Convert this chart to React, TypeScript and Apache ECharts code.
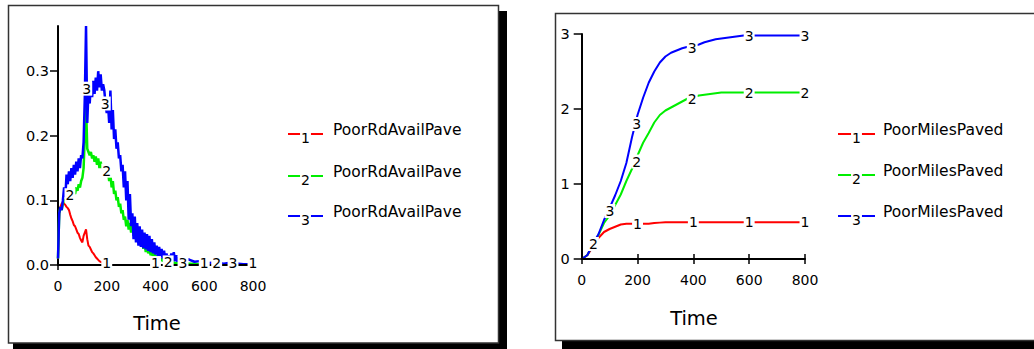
import React, { useEffect, useRef } from "react";
import * as echarts from "echarts";

// ---------- Left chart data (PoorRdAvailPave) ----------
const leftTime: number[] = [
  0, 5, 10, 15, 20, 25, 30, 35, 40, 45, 50, 55, 60, 65, 70, 75, 80, 85, 90, 95,
  100, 105, 110, 115, 120, 125, 130, 135, 140, 145, 150, 155, 160, 165, 170, 175, 180, 185, 190, 195,
  200, 205, 210, 215, 220, 225, 230, 235, 240, 245, 250, 255, 260, 265, 270, 275, 280, 285, 290, 295,
  300, 305, 310, 315, 320, 325, 330, 335, 340, 345, 350, 355, 360, 365, 370, 375, 380, 385, 390, 395,
  400, 405, 410, 415, 420, 425, 430, 435, 440, 445, 450, 455, 460, 465, 470, 475, 480, 485, 490, 495,
  500, 520, 540, 560, 580, 600, 620, 640, 660, 680, 700, 720, 740, 760, 780, 800,
];
const leftRed: number[] = [
  0.01, 0.08, 0.09, 0.095, 0.097, 0.095, 0.093, 0.09, 0.088, 0.085, 0.078, 0.072, 0.068, 0.062, 0.06, 0.055, 0.05, 0.048, 0.042, 0.038,
  0.035, 0.045, 0.05, 0.055, 0.04, 0.03, 0.028, 0.024, 0.02, 0.018, 0.015, 0.012, 0.01, 0.008, 0.006, 0.005, 0.004, 0.004, 0.003, 0.002,
  0.001, 0, 0, 0, 0, 0, 0, 0, 0, 0, 0, 0, 0, 0, 0, 0, 0, 0, 0, 0,
  0, 0, 0, 0, 0, 0, 0, 0, 0, 0, 0, 0, 0, 0, 0, 0, 0, 0, 0, 0,
  0, 0, 0, 0, 0, 0, 0, 0, 0, 0, 0, 0, 0, 0, 0, 0, 0, 0, 0, 0,
  0, 0, 0, 0, 0, 0, 0, 0, 0, 0, 0, 0, 0, 0, 0, 0,
];
const leftGreen: number[] = [
  0.01, 0.08, 0.09, 0.085, 0.095, 0.1, 0.1, 0.105, 0.1, 0.11, 0.105, 0.11, 0.105, 0.115, 0.11, 0.12, 0.115, 0.125, 0.12, 0.13,
  0.135, 0.15, 0.2, 0.25, 0.18, 0.175, 0.17, 0.175, 0.165, 0.17, 0.16, 0.168, 0.155, 0.165, 0.15, 0.16, 0.15, 0.155, 0.145, 0.15,
  0.14, 0.145, 0.13, 0.14, 0.12, 0.13, 0.11, 0.115, 0.1, 0.105, 0.09, 0.095, 0.08, 0.085, 0.07, 0.075, 0.06, 0.07, 0.055, 0.065,
  0.05, 0.07, 0.045, 0.06, 0.04, 0.05, 0.035, 0.045, 0.03, 0.04, 0.025, 0.035, 0.02, 0.03, 0.018, 0.025, 0.015, 0.02, 0.012, 0.018,
  0.01, 0.015, 0.008, 0.012, 0.007, 0.01, 0.006, 0.008, 0.005, 0.007, 0.004, 0.006, 0.004, 0.005, 0.003, 0.004, 0.003, 0.003, 0.002, 0.003,
  0.002, 0.002, 0.002, 0.002, 0.001, 0.001, 0.001, 0.001, 0.001, 0.001, 0.001, 0.001, 0.001, 0.001, 0.001, 0.001,
];
const leftBlue: number[] = [
  0.01, 0.08, 0.09, 0.085, 0.1, 0.12, 0.105, 0.14, 0.125, 0.145, 0.13, 0.15, 0.135, 0.155, 0.14, 0.16, 0.145, 0.165, 0.15, 0.17,
  0.165, 0.19, 0.26, 0.37, 0.22, 0.27, 0.25, 0.28, 0.26, 0.285, 0.265, 0.29, 0.27, 0.3, 0.275, 0.295, 0.27, 0.28, 0.27, 0.25,
  0.235, 0.25, 0.22, 0.27, 0.21, 0.24, 0.195, 0.21, 0.18, 0.19, 0.165, 0.17, 0.145, 0.155, 0.12, 0.145, 0.1, 0.13, 0.07, 0.11,
  0.06, 0.08, 0.04, 0.075, 0.035, 0.065, 0.03, 0.06, 0.028, 0.055, 0.026, 0.05, 0.024, 0.048, 0.022, 0.045, 0.02, 0.04, 0.018, 0.035,
  0.016, 0.03, 0.014, 0.028, 0.012, 0.025, 0.01, 0.022, 0.009, 0.018, 0.008, 0.015, 0.007, 0.018, 0.006, 0.02, 0.006, 0.015, 0.005, 0.012,
  0.005, 0.01, 0.008, 0.005, 0.006, 0.004, 0.003, 0.004, 0.003, 0.002, 0.003, 0.002, 0.002, 0.001, 0.001, 0.001,
];
const leftNames: string[] = ["PoorRdAvailPave", "PoorRdAvailPave", "PoorRdAvailPave"];
const leftLabels1: number[][] = [[200, 0.003], [400, 0.003], [600, 0.003], [800, 0.003]];
const leftLabels2: number[][] = [[49, 0.108], [200, 0.146], [452, 0.004], [651, 0.003]];
const leftLabels3: number[][] = [[118, 0.273], [194, 0.25], [513, 0.003], [718, 0.003]];
const leftXTicks: number[] = [0, 200, 400, 600, 800];
const leftYTicks: number[] = [0, 0.1, 0.2, 0.3];

// ---------- Right chart data (PoorMilesPaved) ----------
const rightTime: number[] = [
  0, 20, 40, 60, 80, 100, 120, 140, 160, 180, 200, 220, 240, 260, 280, 300, 320, 340, 360, 380,
  400, 420, 440, 460, 480, 500, 520, 540, 560, 580, 600, 620, 640, 660, 680, 700, 720, 740, 760, 780, 800,
];
const rightRed: number[] = [
  0, 0.05, 0.16, 0.28, 0.36, 0.4, 0.43, 0.46, 0.47, 0.47, 0.47, 0.47, 0.47, 0.48, 0.485, 0.49, 0.49, 0.49, 0.49, 0.49,
  0.49, 0.49, 0.49, 0.49, 0.49, 0.49, 0.49, 0.49, 0.49, 0.49, 0.49, 0.49, 0.49, 0.49, 0.49, 0.49, 0.49, 0.49, 0.49, 0.49, 0.49,
];
const rightGreen: number[] = [
  0, 0.05, 0.2, 0.32, 0.48, 0.58, 0.72, 0.86, 1.04, 1.2, 1.38, 1.55, 1.68, 1.82, 1.92, 1.98, 2.02, 2.06, 2.1, 2.14,
  2.16, 2.18, 2.19, 2.2, 2.21, 2.22, 2.22, 2.22, 2.22, 2.22, 2.22, 2.22, 2.22, 2.22, 2.22, 2.22, 2.22, 2.22, 2.22, 2.22, 2.22,
];
const rightBlue: number[] = [
  0, 0.05, 0.2, 0.33, 0.52, 0.68, 0.85, 1.04, 1.28, 1.62, 1.92, 2.15, 2.35, 2.5, 2.62, 2.7, 2.75, 2.78, 2.81, 2.83,
  2.84, 2.86, 2.89, 2.91, 2.93, 2.94, 2.95, 2.96, 2.97, 2.98, 2.98, 2.98, 2.98, 2.98, 2.98, 2.98, 2.98, 2.98, 2.98, 2.98, 2.98,
];
const rightNames: string[] = ["PoorMilesPaved", "PoorMilesPaved", "PoorMilesPaved"];
const rightLabels1: number[][] = [[200, 0.47], [400, 0.49], [600, 0.49], [800, 0.49]];
const rightLabels2: number[][] = [[42, 0.2], [197, 1.3], [396, 2.14], [600, 2.22], [800, 2.22]];
const rightLabels3: number[][] = [[101, 0.64], [197, 1.8], [396, 2.82], [600, 2.98], [800, 2.98]];
const rightXTicks: number[] = [0, 200, 400, 600, 800];
const rightYTicks: number[] = [0, 1, 2, 3];

const seriesColors: string[] = ["#ff0000", "#00ee00", "#0000ff"];
const seriesNumbers: string[] = ["1", "2", "3"];
const FONT = "DejaVu Sans";

function zip(xs: number[], ys: number[]): number[][] {
  return xs.map((x, i) => [x, ys[i]]);
}

function markPts(coords: number[][], text: string) {
  return {
    symbol: "rect",
    symbolSize: 0,
    silent: true,
    animation: false,
    label: {
      show: true,
      position: "inside",
      formatter: text,
      color: "#000",
      fontFamily: FONT,
      fontSize: 14,
      backgroundColor: "#fff",
      padding: [0, 1, 0, 1],
      lineHeight: 14,
    },
    data: coords.map((c) => ({ coord: c })),
  };
}

function legendGraphics(x1: number, x2: number, ys: number[], textX: number, names: string[]) {
  const els: any[] = [];
  names.forEach((name, i) => {
    const y = ys[i];
    els.push({
      type: "line",
      shape: { x1, y1: y, x2, y2: y },
      style: { stroke: seriesColors[i], lineWidth: 2 },
      z: 10,
    });
    els.push({
      type: "text",
      x: (x1 + x2) / 2,
      y: y + 4,
      style: {
        text: seriesNumbers[i],
        fill: "#000",
        font: `14px "${FONT}"`,
        align: "center",
        verticalAlign: "middle",
        backgroundColor: "#fff",
        padding: [0, 1],
      },
      z: 11,
    });
    els.push({
      type: "text",
      x: textX,
      y: y - 4,
      style: {
        text: name,
        fill: "#000",
        font: `15.5px "${FONT}"`,
        align: "left",
        verticalAlign: "middle",
      },
      z: 11,
    });
  });
  return els;
}

export default function App() {
  const ref = useRef<HTMLDivElement>(null);

  useEffect(() => {
    document.body.style.margin = "0";
    if (!ref.current) return;
    const chart = echarts.init(ref.current, undefined, { renderer: "svg" });

    const axisLine = { show: true, lineStyle: { color: "#000", width: 2 } };
    const labelStyle = { color: "#000", fontFamily: FONT, fontSize: 14 };

    const xAxisMain = (gridIndex: number, ticks: number[]) => ({
      type: "value",
      gridIndex,
      position: "bottom",
      z: 4,
      min: 0,
      max: 800,
      interval: 200,
      axisLine,
      axisTick: { show: true, inside: false, length: 5, lineStyle: { color: "#000", width: 1.5 }, customValues: ticks },
      axisLabel: { ...labelStyle, margin: 14, customValues: ticks },
      splitLine: { show: false },
    });
    const xAxisInner = (gridIndex: number, ticks: number[]) => ({
      type: "value",
      gridIndex,
      position: "bottom",
      offset: 0,
      z: 4,
      min: 0,
      max: 800,
      interval: 200,
      axisLine: { show: false },
      axisTick: { show: true, inside: true, length: 5, lineStyle: { color: "#000", width: 1.5 }, customValues: ticks },
      axisLabel: { show: false },
      splitLine: { show: false },
    });

    const option: any = {
      animation: false,
      backgroundColor: "#fff",
      grid: [
        { left: 58, top: 26, width: 195, height: 239 },
        { left: 581.7, top: 34, width: 223.3, height: 225 },
      ],
      xAxis: [
        xAxisMain(0, leftXTicks),
        xAxisInner(0, leftXTicks),
        xAxisMain(1, rightXTicks),
        xAxisInner(1, rightXTicks),
      ],
      yAxis: [
        {
          type: "value",
          gridIndex: 0,
          min: 0,
          max: 0.37,
          interval: 0.1,
          axisLine,
          axisTick: { show: true, length: 8, lineStyle: { color: "#000", width: 1.5 }, customValues: leftYTicks },
          axisLabel: { ...labelStyle, fontSize: 14.5, margin: 9, customValues: leftYTicks, formatter: (v: number) => v.toFixed(1) },
          splitLine: { show: false },
        },
        {
          type: "value",
          gridIndex: 1,
          min: 0,
          max: 3,
          interval: 1,
          axisLine,
          axisTick: { show: true, length: 8, lineStyle: { color: "#000", width: 1.5 }, customValues: rightYTicks },
          axisLabel: { ...labelStyle, fontSize: 14.5, margin: 12, customValues: rightYTicks },
          splitLine: { show: false },
        },
      ],
      series: [
        { data: zip(leftTime, leftRed), labels: leftLabels1, idx: 0, x: 0, y: 0, w: 2 },
        { data: zip(leftTime, leftGreen), labels: leftLabels2, idx: 1, x: 0, y: 0, w: 2.5 },
        { data: zip(leftTime, leftBlue), labels: leftLabels3, idx: 2, x: 0, y: 0, w: 2.5 },
        { data: zip(rightTime, rightRed), labels: rightLabels1, idx: 0, x: 2, y: 1, w: 2 },
        { data: zip(rightTime, rightGreen), labels: rightLabels2, idx: 1, x: 2, y: 1, w: 2 },
        { data: zip(rightTime, rightBlue), labels: rightLabels3, idx: 2, x: 2, y: 1, w: 2 },
      ].map((s) => ({
        type: "line",
        name: (s.x === 0 ? leftNames : rightNames)[s.idx],
        xAxisIndex: s.x,
        yAxisIndex: s.y,
        data: s.data,
        showSymbol: false,
        symbol: "none",
        lineStyle: { color: seriesColors[s.idx], width: s.w },
        itemStyle: { color: seriesColors[s.idx] },
        z: 1,
        zlevel: 0,
        markPoint: markPts(s.labels, seriesNumbers[s.idx]),
      })),
      graphic: [
        // left panel frame + shadow
        { type: "rect", shape: { x: 499, y: 11, width: 8, height: 338 }, style: { fill: "#000" }, z: 0 },
        { type: "rect", shape: { x: 13, y: 343, width: 494, height: 6 }, style: { fill: "#000" }, z: 0 },
        { type: "rect", shape: { x: 8.5, y: 5.5, width: 490, height: 337.5 }, style: { fill: "none", stroke: "#333", lineWidth: 1.5 }, z: 1 },
        // right panel frame + shadow
        { type: "rect", shape: { x: 562, y: 341, width: 472, height: 8 }, style: { fill: "#000" }, z: 0 },
        { type: "rect", shape: { x: 555.5, y: 13.5, width: 490, height: 327 }, style: { fill: "none", stroke: "#333", lineWidth: 1.5 }, z: 1 },
        // axis titles
        { type: "text", x: 157, y: 323, style: { text: "Time", fill: "#000", font: `19.5px "${FONT}"`, align: "center", verticalAlign: "middle" }, z: 5 },
        { type: "text", x: 694, y: 318, style: { text: "Time", fill: "#000", font: `19.5px "${FONT}"`, align: "center", verticalAlign: "middle" }, z: 5 },
        ...legendGraphics(288, 323, [134, 176, 216], 333, leftNames),
        ...legendGraphics(838, 875, [134, 175, 216], 883, rightNames),
      ],
    };

    chart.setOption(option);
    return () => chart.dispose();
  }, []);

  return <div ref={ref} style={{ width: 1034, height: 349 }} />;
}
